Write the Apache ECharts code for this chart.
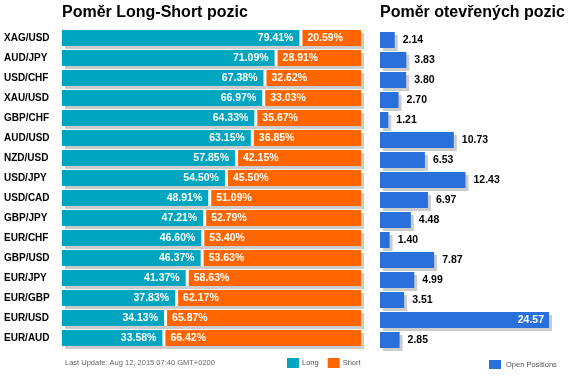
<!DOCTYPE html>
<html>
<head>
<meta charset="utf-8">
<script src="https://cdn.jsdelivr.net/npm/echarts@6/dist/echarts.min.js"></script>
<style>
html,body{margin:0;padding:0;background:#fff;}
#chart{width:575px;height:381px;}
</style>
</head>
<body>
<div id="chart"></div>
<script>
var categories = ['XAG/USD','AUD/JPY','USD/CHF','XAU/USD','GBP/CHF','AUD/USD','NZD/USD','USD/JPY','USD/CAD','GBP/JPY','EUR/CHF','GBP/USD','EUR/JPY','EUR/GBP','EUR/USD','EUR/AUD'];
var longValues = [79.41,71.09,67.38,66.97,64.33,63.15,57.85,54.50,48.91,47.21,46.60,46.37,41.37,37.83,34.13,33.58];
var shortValues = [20.59,28.91,32.62,33.03,35.67,36.85,42.15,45.50,51.09,52.79,53.40,53.63,58.63,62.17,65.87,66.42];
var openPositions = [2.14,3.83,3.80,2.70,1.21,10.73,6.53,12.43,6.97,4.48,1.40,7.87,4.99,3.51,24.57,2.85];
var titleLeft = 'Poměr Long-Short pozic';
var titleRight = 'Poměr otevřených pozic';
var updateText = 'Last Update: Aug 12, 2015 07:40 GMT+0200';

var FONT = '"Liberation Sans", Arial, sans-serif';
var TEAL = '#00a6c0', ORANGE = '#ff6600', BLUE = '#2a70dc', SHADOW = '#cccccc';

var chart = echarts.init(document.getElementById('chart'), null, {renderer:'canvas'});
var pct = function(p){ return Number(p.value).toFixed(2) + '%'; };
var num = function(p){ return Number(p.value).toFixed(2); };

var option = {
  animation: false,
  backgroundColor: '#fff',
  title: [
    {text: titleLeft, left: 62, top: 5, padding: 0, textStyle:{fontFamily:FONT, fontSize:16, fontWeight:'bold', color:'#000'}},
    {text: titleRight, left: 380, top: 5, padding: 0, textStyle:{fontFamily:FONT, fontSize:16, fontWeight:'bold', color:'#000'}},
    {text: updateText, left: 65, top: 359, padding: 0, textStyle:{fontFamily:FONT, fontSize:7.5, fontWeight:'normal', color:'#666'}}
  ],
  legend: [
    {data:['Long','Short'], left: 287, top: 358, padding: 0, itemWidth: 12, itemHeight: 10, itemGap: 9, icon: 'rect', selectedMode: false,
     textStyle:{fontFamily:FONT, fontSize:7.5, color:'#555', padding:[0,0,0,-2]}},
    {data:['Open Positions'], left: 489, top: 360, padding: 0, itemWidth: 12, itemHeight: 9, icon: 'rect', selectedMode: false,
     textStyle:{fontFamily:FONT, fontSize:7.5, color:'#555'}}
  ],
  grid: [
    {left: 65, top: 31, width: 299, height: 320},
    {left: 62, top: 28, width: 299, height: 320},
    {left: 380, top: 30, width: 172, height: 320}
  ],
  xAxis: [
    {type:'value', gridIndex:0, min:0, max:100, show:false},
    {type:'value', gridIndex:1, min:0, max:100, show:false},
    {type:'value', gridIndex:2, min:0, max:25, show:false}
  ],
  yAxis: [
    {type:'category', gridIndex:0, data:categories, inverse:true, show:false},
    {type:'category', gridIndex:1, data:categories, inverse:true,
     axisLine:{show:false}, axisTick:{show:false}, splitLine:{show:false},
     axisLabel:{align:'left', margin:58, fontFamily:FONT, fontSize:10, fontWeight:'bold', color:'#000'}},
    {type:'category', gridIndex:2, data:categories, inverse:true, show:false}
  ],
  series: [
    {type:'bar', xAxisIndex:0, yAxisIndex:0, stack:'shadow', data:longValues, barWidth:16, silent:true, z:1, itemStyle:{color:SHADOW}},
    {type:'bar', xAxisIndex:0, yAxisIndex:0, stack:'shadow', data:shortValues, barWidth:16, silent:true, z:1, itemStyle:{color:SHADOW}},
    {name:'Long', type:'bar', xAxisIndex:1, yAxisIndex:1, stack:'ls', data:longValues, barWidth:16, z:4,
     itemStyle:{color:TEAL, shadowColor:'#ffffff', shadowOffsetX:3, shadowOffsetY:0, shadowBlur:0},
     label:{show:true, position:'insideRight', distance:6, formatter:pct, color:'#fff', fontFamily:FONT, fontSize:10.5, fontWeight:'bold'}},
    {name:'Short', type:'bar', xAxisIndex:1, yAxisIndex:1, stack:'ls', data:shortValues, barWidth:16, z:3,
     itemStyle:{color:ORANGE},
     label:{show:true, position:'insideLeft', distance:8, formatter:pct, color:'#fff', fontFamily:FONT, fontSize:10.5, fontWeight:'bold'}},
    {name:'Open Positions', type:'bar', xAxisIndex:2, yAxisIndex:2, barWidth:16, z:3,
     data: openPositions.map(function(v){
       return v > 20 ? {value:v, label:{position:'insideRight', distance:5, color:'#fff'}} : v;
     }),
     itemStyle:{color:BLUE, shadowColor:SHADOW, shadowOffsetX:3, shadowOffsetY:3, shadowBlur:0},
     label:{show:true, position:'right', distance:8, formatter:num, color:'#000', fontFamily:FONT, fontSize:10.5, fontWeight:'bold'}}
  ]
};
chart.setOption(option);
</script>
</body>
</html>
